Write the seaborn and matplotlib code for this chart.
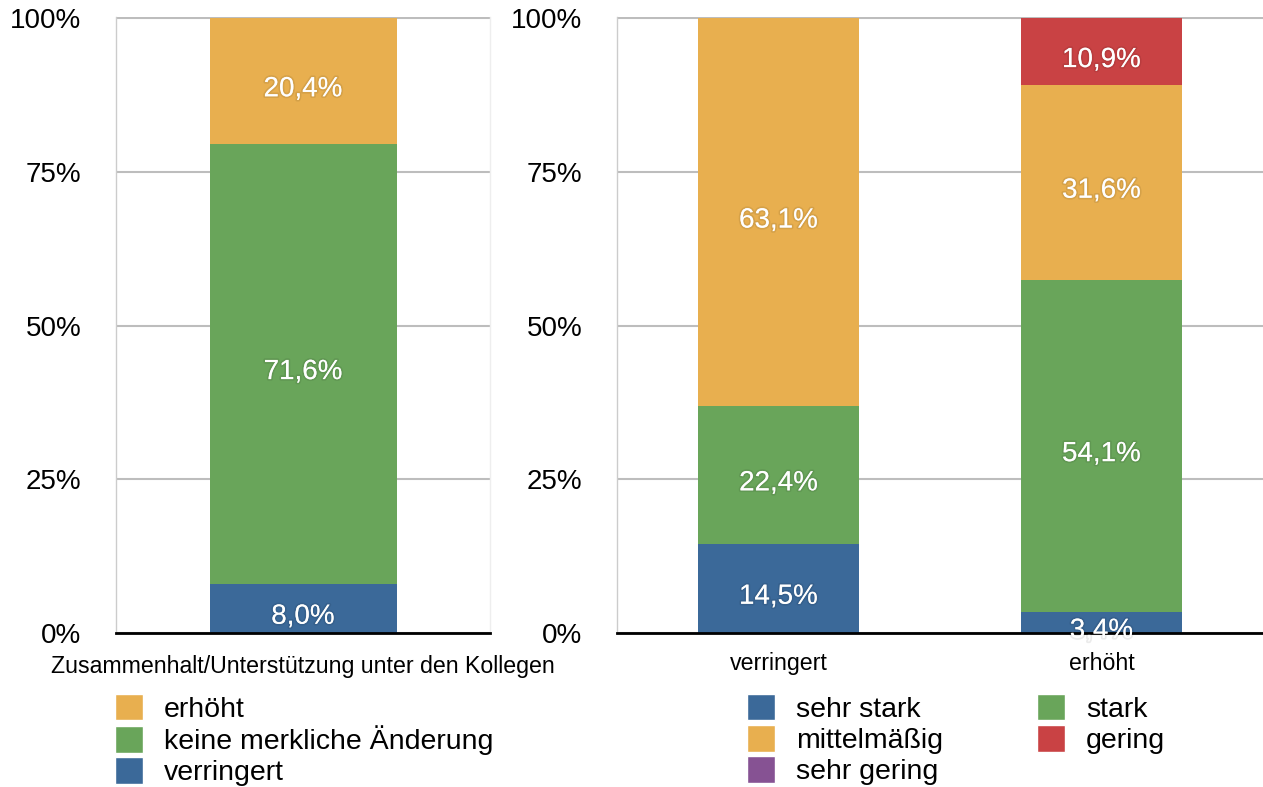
import matplotlib
matplotlib.use('Agg')
import matplotlib.pyplot as plt
import matplotlib.patheffects as pe
from matplotlib.patches import Patch
from matplotlib.ticker import FuncFormatter
import numpy as np
import seaborn as sns

# left panel: Zusammenhalt/Unterstützung unter den Kollegen
left_title = 'Zusammenhalt/Unterstützung unter den Kollegen'
left_categories = ['gesamt']
left_series = ['verringert', 'keine merkliche Änderung', 'erhöht']
verringert = [8.0]
keine_aenderung = [71.6]
erhoeht = [20.4]
left_colors = ['#3b6999', '#69a55a', '#e8af4f']

# right panel
right_categories = ['verringert', 'erhöht']
right_series = ['sehr stark', 'stark', 'mittelmäßig', 'gering', 'sehr gering']
sehr_stark = [14.5, 3.4]
stark = [22.4, 54.1]
mittelmaessig = [63.1, 31.6]
gering = [0.0, 10.9]
sehr_gering = [0.0, 0.0]
right_colors = ['#3b6999', '#69a55a', '#e8af4f', '#c94244', '#865293']

yticks = [0, 25, 50, 75, 100]

sns.set_theme(style='white')
plt.rcParams['font.family'] = ['Liberation Sans', 'DejaVu Sans']
plt.rcParams['text.color'] = 'black'

fig = plt.figure(figsize=(12.63, 7.87), dpi=100)
ax1 = fig.add_axes([116/1263, 154/787, 374/1263, 616/787])
ax2 = fig.add_axes([617/1263, 154/787, 646/1263, 616/787])

shadow = [pe.withStroke(linewidth=2.5, foreground=(0, 0, 0, 0.08))]


def stacked(ax, cats, layers, colors):
    bottom = np.zeros(len(cats))
    for vals, col in zip(layers, colors):
        vals = np.array(vals)
        sns.barplot(x=cats, y=vals, order=cats, color=col, saturation=1,
                    width=0.5, linewidth=0, bottom=bottom, ax=ax)
        for j, v in enumerate(vals):
            if v > 0:
                ax.annotate(f'{v:.1f}%'.replace('.', ','), (j, bottom[j] + v / 2),
                            xytext=(0, -6), textcoords='offset points',
                            ha='center', va='center', color='white', fontsize=20,
                            path_effects=shadow, zorder=5, annotation_clip=False)
        bottom = bottom + vals


stacked(ax1, left_categories, [verringert, keine_aenderung, erhoeht], left_colors)
stacked(ax2, right_categories, [sehr_stark, stark, mittelmaessig, gering, sehr_gering], right_colors)

for ax in (ax1, ax2):
    ax.set_ylim(0, 100.2)
    ax.set_yticks(yticks)
    ax.yaxis.set_major_formatter(FuncFormatter(lambda v, p: f'{v:.0f}%'))
    ax.tick_params(axis='y', length=0, pad=25, labelsize=20, labelcolor='black')
    ax.tick_params(axis='x', length=0, pad=14, labelsize=16.7, labelcolor='black')
    ax.set_axisbelow(True)
    ax.yaxis.grid(True, color='#bdbdbd', linewidth=1.5)
    ax.spines['top'].set_visible(False)
    ax.spines['left'].set_color('#cccccc')
    ax.spines['left'].set_linewidth(1)
    ax.spines['bottom'].set_color('black')
    ax.spines['bottom'].set_linewidth(2)
    ax.set_ylabel('')

ax1.spines['right'].set_color('#eeeeee')
ax1.spines['right'].set_linewidth(1)
ax2.spines['right'].set_visible(False)
ax1.set_xlim(-0.5, 0.5)
ax2.set_xlim(-0.5, 1.5)

ax1.set_xticks([])
ax1.set_xlabel(left_title, fontsize=16.7, color='black')
ax1.xaxis.set_label_coords(0.5, -0.036)
ax2.set_xlabel('')

# legends
leg_kw = dict(loc='upper left', frameon=False, fontsize=20.5, handlelength=1.0,
              handleheight=1.05, handletextpad=0.72, labelspacing=0.08,
              borderpad=0, borderaxespad=0, labelcolor='black')
h_left = [Patch(facecolor=left_colors[i], label=left_series[i]) for i in (2, 1, 0)]
fig.legend(handles=h_left, bbox_to_anchor=(115/1263, 1 - 694/787), **leg_kw)

order = [0, 2, 4, 1, 3]
h_right = [Patch(facecolor=right_colors[i], label=right_series[i]) for i in order]
fig.legend(handles=h_right, bbox_to_anchor=(747/1263, 1 - 694/787), ncol=2,
           columnspacing=3.3, **leg_kw)

fig.savefig('out.png', dpi=100)
